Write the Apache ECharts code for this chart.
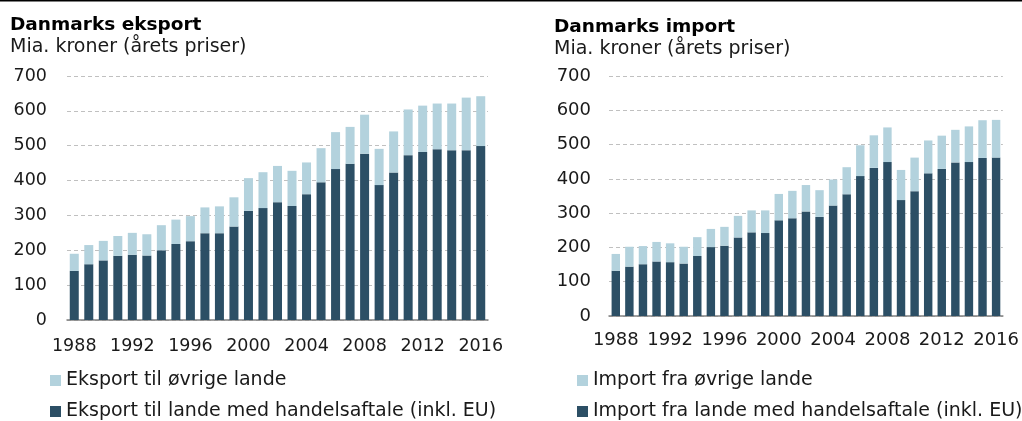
<!DOCTYPE html>
<html>
<head>
<meta charset="utf-8">
<script src="https://cdn.jsdelivr.net/npm/echarts@6/dist/echarts.min.js"></script>
<style>
html,body{margin:0;padding:0;background:#fff;}
#c{width:1022px;height:421px;}
</style>
</head>
<body>
<div id="c"></div>
<script>
const years = ['1988','1989','1990','1991','1992','1993','1994','1995','1996','1997','1998','1999','2000','2001','2002','2003','2004','2005','2006','2007','2008','2009','2010','2011','2012','2013','2014','2015','2016'];
const yTicks = [0,100,200,300,400,500,600,700];

const eksportHandel = [141,160,171,184,187,185,200,218,226,249,249,268,313,321,338,327,361,395,433,448,477,387,423,473,482,490,487,487,499];
const eksportOevrige = [49,55,56,57,63,61,72,70,72,74,77,84,94,103,104,101,91,98,106,106,112,104,118,131,133,131,134,151,143];

const importHandel = [132,144,151,159,157,153,175,201,205,229,244,242,279,285,305,289,322,355,408,432,449,338,364,416,429,448,449,461,462];
const importOevrige = [49,58,53,57,55,49,55,53,55,63,64,66,77,80,77,78,76,79,90,95,101,88,98,96,97,95,104,110,110];

const names = {
  eo: 'Eksport til øvrige lande',
  eh: 'Eksport til lande med handelsaftale (inkl. EU)',
  io: 'Import fra øvrige lande',
  ih: 'Import fra lande med handelsaftale (inkl. EU)'
};

const DARK = '#2c4f65';
const LIGHT = '#b3d2dd';
const FONT = 'DejaVu Sans';

const chart = echarts.init(document.getElementById('c'), null, {renderer:'canvas'});

function xAxis(gi, fs, margin){
  return {
    type:'category', gridIndex:gi, data:years,
    axisTick:{show:false},
    axisLine:{lineStyle:{color:'#808080', width:1.5}},
    axisLabel:{interval:3, color:'#1a1a1a', fontFamily:FONT, fontSize:fs, margin:margin}
  };
}
function yAxis(gi, fs, margin){
  return {
    type:'value', gridIndex:gi, min:yTicks[0], max:yTicks[yTicks.length-1], interval:100,
    axisLine:{show:false}, axisTick:{show:false},
    axisLabel:{color:'#1a1a1a', fontFamily:FONT, fontSize:fs, margin:margin},
    splitLine:{lineStyle:{color:'#c0c0c0', type:[4,3], width:1}}
  };
}
function leg(name, left, top){
  return {
    left:left, top:top, itemWidth:11, itemHeight:11, itemGap:5,
    icon:'rect', data:[name], padding:0,
    textStyle:{fontFamily:FONT, fontSize:19, color:'#1a1a1a', padding:[0,0,0,0]}
  };
}

const option = {
  animation:false,
  textStyle:{fontFamily:FONT},
  graphic:[
    {type:'rect', shape:{x:0,y:0,width:1022,height:1.5}, style:{fill:'#000'}},
    {type:'text', left:10, top:16, style:{text:'Danmarks eksport', font:'bold 18.5px "DejaVu Sans"', fill:'#000'}},
    {type:'text', left:10, top:38, style:{text:'Mia. kroner (årets priser)', font:'19px "DejaVu Sans"', fill:'#1a1a1a'}},
    {type:'text', left:554, top:18, style:{text:'Danmarks import', font:'bold 18.5px "DejaVu Sans"', fill:'#000'}},
    {type:'text', left:554, top:40, style:{text:'Mia. kroner (årets priser)', font:'19px "DejaVu Sans"', fill:'#1a1a1a'}}
  ],
  legend:[
    leg(names.eo, 50, 371),
    leg(names.eh, 50, 402),
    leg(names.io, 577, 371),
    leg(names.ih, 577, 402)
  ],
  grid:[
    {left:67, top:76, width:421, height:244},
    {left:609, top:76, width:394, height:240}
  ],
  xAxis:[xAxis(0,17.5,17), xAxis(1,18,15)],
  yAxis:[yAxis(0,17.5,20), yAxis(1,18,18)],
  series:[
    {name:names.eh, type:'bar', xAxisIndex:0, yAxisIndex:0, stack:'e', barWidth:'62%', data:eksportHandel, itemStyle:{color:DARK}},
    {name:names.eo, type:'bar', xAxisIndex:0, yAxisIndex:0, stack:'e', barWidth:'62%', data:eksportOevrige, itemStyle:{color:LIGHT}},
    {name:names.ih, type:'bar', xAxisIndex:1, yAxisIndex:1, stack:'i', barWidth:'62%', data:importHandel, itemStyle:{color:DARK}},
    {name:names.io, type:'bar', xAxisIndex:1, yAxisIndex:1, stack:'i', barWidth:'62%', data:importOevrige, itemStyle:{color:LIGHT}}
  ]
};
chart.setOption(option);
</script>
</body>
</html>
